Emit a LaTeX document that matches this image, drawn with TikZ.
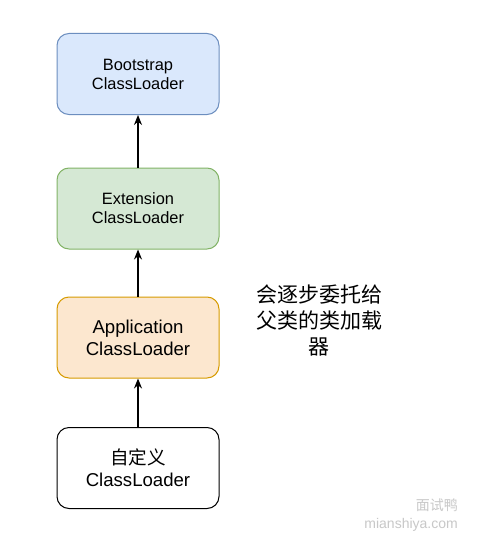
\documentclass[tikz,border=0pt]{standalone}
\usepackage{fontspec}
\setmainfont{Liberation Sans}
\newfontfamily\cjk{Noto Sans CJK SC}
\usetikzlibrary{arrows.meta}
\definecolor{blueFill}{HTML}{DAE8FC}
\definecolor{blueLine}{HTML}{6C8EBF}
\definecolor{greenFill}{HTML}{D5E8D4}
\definecolor{greenLine}{HTML}{82B366}
\definecolor{orangeFill}{HTML}{FCE7CF}
\definecolor{orangeLine}{HTML}{D79B00}
\definecolor{markGray}{HTML}{C8C8C8}
\begin{document}
\begin{tikzpicture}[x=1pt, y=-1pt,
	loader/.style={rectangle, rounded corners=12pt, draw=black, line width=1pt, minimum width=162pt, minimum height=81pt, inner sep=0pt, align=center, font=\fontsize{16.4}{19}\selectfont},
	big/.style={font=\fontsize{18.6}{22}\selectfont},
	>={Stealth[length=10pt, width=8pt]}]
	\useasboundingbox[fill=white] (0, 0) rectangle (499, 551);

	\node[loader, fill=blueFill, draw=blueLine] (bootstrap) at (138, 74) {Bootstrap\\ClassLoader};
	\node[loader, fill=greenFill, draw=greenLine] (extension) at (138, 208.5) {Extension\\ClassLoader};
	\node[loader, big, fill=orangeFill, draw=orangeLine] (application) at (138, 337.5) {Application\\ClassLoader};
	\node[loader, big] (custom) at (138, 468) {{\cjk 自定义}\\ClassLoader};

	\draw[->, line width=1.3pt] (extension) -- (bootstrap);
	\draw[->, line width=1.3pt] (application) -- (extension);
	\draw[->, line width=1.3pt] (custom) -- (application);

	\node[align=center, font=\cjk\fontsize{21}{26}\selectfont] (note) at (319, 321) {会逐步委托给\\父类的类加载\\器};

	% watermark
	\node[anchor=east, inner sep=0pt, text=markGray, font=\cjk\fontsize{14}{16}\selectfont] (markcn) at (458, 505) {面试鸭};
	\node[anchor=east, inner sep=0pt, text=markGray, font=\fontsize{14}{16}\selectfont] (markurl) at (458, 525) {mianshiya.com};
\end{tikzpicture}
\end{document}
